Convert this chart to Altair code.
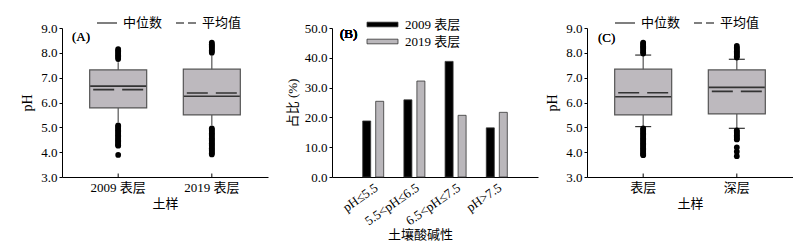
import altair as alt
import pandas as pd

SERIF = "Liberation Serif, Noto Sans CJK SC"
CJK = "Noto Sans CJK SC"
BOX_FILL = "#bdb9be"
EDGE = "#555555"

# ---------------- Panel A data ----------------
a_groups = ["2009 表层", "2019 表层"]
a_q1 = [5.78, 5.50]
a_q3 = [7.31, 7.34]
a_median = [6.66, 6.25]
a_mean = [6.52, 6.38]
a_whisk_lo = [5.20, 5.08]
a_whisk_hi = [7.62, 7.87]
a_out_2009 = [7.75, 7.80, 7.85, 7.90, 7.95, 8.00, 8.05, 8.10, 8.15,
              5.08, 5.03, 4.98, 4.93, 4.88, 4.83, 4.78, 4.73, 4.68, 4.63, 4.58,
              4.53, 4.48, 4.43, 4.38, 4.33, 4.28, 4.26, 3.89]
a_out_2019 = [8.00, 8.05, 8.10, 8.15, 8.20, 8.25, 8.30, 8.35, 8.41,
              4.96, 4.91, 4.86, 4.81, 4.76, 4.71, 4.66, 4.61, 4.56, 4.51, 4.46,
              4.41, 4.36, 4.31, 4.26, 4.21, 4.16, 4.11, 4.06, 4.01, 3.96, 3.91]

# ---------------- Panel B data ----------------
b_cats = ["pH≤5.5", "5.5<pH≤6.5", "6.5<pH≤7.5", "pH>7.5"]
b_years = ["2009 表层", "2019 表层"]
b_2009 = [18.8, 25.9, 38.8, 16.5]
b_2019 = [25.4, 32.2, 20.7, 21.7]

# ---------------- Panel C data ----------------
c_groups = ["表层", "深层"]
c_q1 = [5.50, 5.54]
c_q3 = [7.34, 7.31]
c_median = [6.23, 6.61]
c_mean = [6.39, 6.45]
c_whisk_lo = [5.03, 4.96]
c_whisk_hi = [7.91, 7.74]
c_out_surface = [7.97, 8.02, 8.07, 8.12, 8.17, 8.22, 8.27, 8.32, 8.37, 8.41,
                 4.96, 4.91, 4.86, 4.81, 4.76, 4.71, 4.66, 4.61, 4.56, 4.51, 4.46,
                 4.41, 4.36, 4.31, 4.26, 4.21, 4.16, 4.11, 4.06, 4.01, 3.96, 3.91, 3.88]
c_out_deep = [7.81, 7.86, 7.91, 7.96, 8.01, 8.06, 8.11, 8.16, 8.21, 8.28,
              4.88, 4.83, 4.78, 4.73, 4.68, 4.63, 4.58, 4.53, 4.51, 4.19, 4.02, 3.84]

STATS = ["中位数", "平均值"]


def box_panel(groups, q1, q3, med, mean, wlo, whi, outs, tag, tag_xy, caps, legend_x):
    stats = pd.DataFrame({"g": groups, "q1": q1, "q3": q3, "med": med, "mean": mean,
                          "wlo": wlo, "whi": whi, "stat": ["中位数"] * len(groups),
                          "t0": [3.0] * len(groups), "t1": [3.14] * len(groups)})
    rows = []
    for g, vals in zip(groups, outs):
        for v in vals:
            rows.append({"g": g, "v": v})
    odf = pd.DataFrame(rows)

    xs = alt.Scale(domain=groups, paddingInner=0, paddingOuter=0.1)
    xax = alt.Axis(title="土样", labelAngle=0, tickSize=0, labelFont=SERIF, labelFontSize=13,
                   labelPadding=4, titleFont=CJK, titleFontSize=13, titleFontWeight="normal",
                   titlePadding=3, domainColor="black", labelColor="black", titleColor="black")
    ys = alt.Scale(domain=[3, 9], nice=False, zero=False)
    yax = alt.Axis(title="pH", values=[3, 4, 5, 6, 7, 8, 9], format=".1f", grid=False,
                   tickSize=3, tickColor="black", labelFont=SERIF, labelFontSize=13,
                   labelPadding=2, titleFont=SERIF, titleFontSize=14, titleFontWeight="normal",
                   titlePadding=6, domainColor="black", labelColor="black", titleColor="black")

    def X():
        return alt.X("g:N", scale=xs, axis=xax, sort=groups)

    base = alt.Chart(stats)
    whisk = base.mark_rule(color=EDGE, strokeWidth=1.2).encode(
        x=X(), y=alt.Y("wlo:Q", scale=ys, axis=yax), y2="whi:Q")
    box = base.mark_bar(width=57, fill=BOX_FILL, stroke=EDGE, strokeWidth=1.2).encode(
        x=X(), y=alt.Y("q1:Q", scale=ys, axis=yax), y2="q3:Q")
    median = base.mark_rule(xOffset=-28, x2Offset=28, strokeWidth=1.6, color="#333333").encode(
        x=X(), x2="g:N", y=alt.Y("med:Q", scale=ys, axis=yax),
        strokeDash=alt.StrokeDash(
            "stat:N",
            scale=alt.Scale(domain=STATS, range=[[1, 0], [8, 4]]),
            legend=alt.Legend(orient="none", legendX=legend_x, legendY=-16, direction="horizontal",
                              columns=2, title=None, symbolType="stroke", symbolSize=400,
                              symbolStrokeWidth=1.2, symbolStrokeColor="black",
                              labelFont=CJK, labelFontSize=13, labelColor="black",
                              labelOffset=5, columnPadding=10)))
    meanl = base.mark_rule(xOffset=-25, x2Offset=25, strokeWidth=1.6, color="#333333",
                           strokeDash=[21, 8]).encode(
        x=X(), x2="g:N", y=alt.Y("mean:Q", scale=ys, axis=yax))
    tick = base.mark_rule(color="black", strokeWidth=1).encode(
        x=X(), y=alt.Y("t0:Q", scale=ys, axis=yax), y2="t1:Q")
    pts = alt.Chart(odf).mark_circle(size=33, color="black", opacity=1).encode(
        x=X(), y=alt.Y("v:Q", scale=ys, axis=yax))
    label = alt.Chart(stats).mark_text(text=tag, align="left", baseline="middle", font=SERIF,
                                       fontSize=13, color="black").encode(
        x=alt.value(tag_xy[0]), y=alt.value(tag_xy[1]))
    layers = [whisk, box, median, meanl]
    if caps:
        for col in ["wlo", "whi"]:
            layers.append(base.mark_rule(xOffset=-8, x2Offset=8, strokeWidth=1.2, color="#333333").encode(
                x=X(), x2="g:N", y=alt.Y(f"{col}:Q", scale=ys, axis=yax)))
    layers += [pts, tick, label]
    return alt.layer(*layers).properties(width=206, height=149)


panel_a = box_panel(a_groups, a_q1, a_q3, a_median, a_mean, a_whisk_lo, a_whisk_hi,
                    [a_out_2009, a_out_2019], "(A)", (10, 9), caps=False, legend_x=34)
panel_c = box_panel(c_groups, c_q1, c_q3, c_median, c_mean, c_whisk_lo, c_whisk_hi,
                    [c_out_surface, c_out_deep], "(C)", (11, 10), caps=True, legend_x=27)

# ---------------- Panel B ----------------
brows = []
for c, v1, v2 in zip(b_cats, b_2009, b_2019):
    brows.append({"cat": c, "year": b_years[0], "pct": v1})
    brows.append({"cat": c, "year": b_years[1], "pct": v2})
bdf = pd.DataFrame(brows)

bars = alt.Chart(bdf).mark_bar(stroke="#333333", strokeWidth=0.8).encode(
    x=alt.X("cat:N", sort=b_cats,
            scale=alt.Scale(domain=b_cats, paddingInner=0, paddingOuter=0.5),
            axis=alt.Axis(title="土壤酸碱性", labelAngle=325, labelAlign="right",
                          labelBaseline="top", tickSize=0, labelPadding=4,
                          labelFont=SERIF, labelFontSize=13, titleFont=CJK,
                          titleFontSize=13, titleFontWeight="normal", titlePadding=1,
                          titleX=88, domainColor="black", labelColor="black",
                          titleColor="black")),
    xOffset=alt.XOffset("year:N", sort=b_years,
                        scale=alt.Scale(domain=b_years, paddingInner=0.385, paddingOuter=0.777)),
    y=alt.Y("pct:Q", scale=alt.Scale(domain=[0, 50], nice=False),
            axis=alt.Axis(title="占比 (%)", values=[0, 10, 20, 30, 40, 50], format=".1f",
                          grid=False, tickSize=3, tickColor="black", labelFont=SERIF,
                          labelFontSize=13, labelPadding=2, titleFont=SERIF,
                          titleFontSize=13, titleFontWeight="normal", titlePadding=5,
                          domainColor="black", labelColor="black", titleColor="black")),
    fill=alt.Fill("year:N", sort=b_years,
                  scale=alt.Scale(domain=b_years, range=["#000000", "#bab7bb"]),
                  legend=alt.Legend(orient="none", legendX=42, legendY=-12, title=None,
                                    symbolType="M-2,-0.3H2V0.3H-2Z", symbolSize=240,
                                    symbolStrokeColor="#333333", symbolStrokeWidth=0.8,
                                    labelFont=SERIF, labelFontSize=13, labelColor="black",
                                    labelOffset=14, rowPadding=1)),
)
b_tag = alt.Chart(bdf).mark_text(text="(B)", align="left", baseline="middle", font=SERIF,
                                 fontSize=13, color="black").encode(
    x=alt.value(8), y=alt.value(6))
panel_b = alt.layer(bars, b_tag).properties(width=206, height=149)

inner = alt.hconcat(panel_a, panel_b, spacing=18).resolve_scale(
    strokeDash="independent", fill="independent")
chart = alt.hconcat(inner, panel_c, spacing=7).resolve_scale(
    strokeDash="independent", fill="independent"
).configure_view(stroke=None).configure_axis(domainWidth=1).properties(
    padding={"left": 20, "top": 12, "right": 0, "bottom": 0}
)

chart.save("out.html", embed_options={"renderer": "svg", "actions": False})
